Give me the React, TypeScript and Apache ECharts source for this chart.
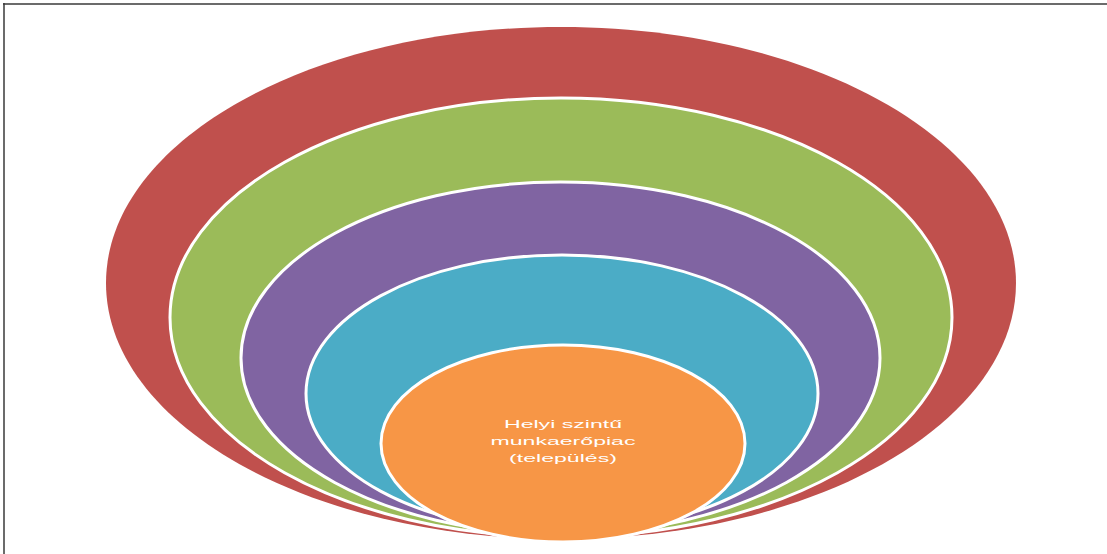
import React, { useEffect, useRef } from "react";
import * as echarts from "echarts";

// Layers from outermost to innermost
const layerNames = ["", "", "", "", "Helyi szintű\nmunkaerőpiac\n(település)"];
const layerColors = ["#C0504D", "#9BBB59", "#8064A2", "#4BACC6", "#F79646"];
// Ellipse extents in diagram units: left, top, right, bottom
const layerLeft = [106, 170, 241, 306, 381];
const layerTop = [27, 98, 182, 255, 345];
const layerRight = [1016, 952, 880, 818, 745];
const layerBottom = [539, 537, 534, 532, 542];

export default function App() {
  const ref = useRef<HTMLDivElement>(null);
  useEffect(() => {
    document.body.style.margin = "0";
    const chart = echarts.init(ref.current!, null, { renderer: "svg" });
    const data = layerNames.map((n, i) => [
      layerLeft[i],
      layerTop[i],
      layerRight[i],
      layerBottom[i],
      i,
    ]);
    chart.setOption({
      animation: false,
      backgroundColor: "#ffffff",
      grid: { left: 0, right: 0, top: 0, bottom: 0 },
      xAxis: { type: "value", min: 0, max: 1107, show: false },
      yAxis: { type: "value", min: 0, max: 554, inverse: true, show: false },
      graphic: [
        {
          type: "line",
          shape: { x1: 3, y1: 4, x2: 1107, y2: 4 },
          style: { stroke: "#3a3a3a", lineWidth: 1.5 },
        },
        {
          type: "line",
          shape: { x1: 4, y1: 3, x2: 4, y2: 554 },
          style: { stroke: "#3a3a3a", lineWidth: 1.5 },
        },
      ],
      series: [
        {
          type: "custom",
          coordinateSystem: "cartesian2d",
          data,
          encode: { x: [0, 2], y: [1, 3] },
          renderItem: (params: any, api: any) => {
            const i = api.value(4);
            const p1 = api.coord([api.value(0), api.value(1)]);
            const p2 = api.coord([api.value(2), api.value(3)]);
            const cx = (p1[0] + p2[0]) / 2;
            const cy = (p1[1] + p2[1]) / 2;
            const rx = Math.abs(p2[0] - p1[0]) / 2;
            const ry = Math.abs(p2[1] - p1[1]) / 2;
            const children: any[] = [
              {
                type: "ellipse",
                shape: { cx, cy, rx, ry },
                style: {
                  fill: layerColors[i],
                  stroke: i === 0 ? layerColors[i] : "#ffffff",
                  lineWidth: i === 0 ? 0 : 3,
                },
              },
            ];
            if (layerNames[i]) {
              children.push({
                type: "text",
                x: cx,
                y: cy - 2,
                scaleX: 2.1,
                style: {
                  text: layerNames[i],
                  fill: "#ffffff",
                  font: "11px 'Liberation Sans', Arial, sans-serif",
                  align: "center",
                  verticalAlign: "middle",
                  lineHeight: 17,
                },
              });
            }
            return { type: "group", children };
          },
        },
      ],
    });
    return () => chart.dispose();
  }, []);
  return <div ref={ref} style={{ width: 1107, height: 554 }} />;
}
